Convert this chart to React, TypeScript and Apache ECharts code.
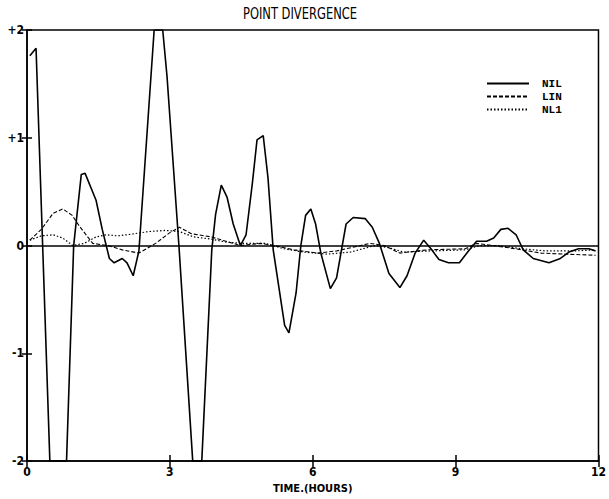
import React, { useEffect, useRef } from "react";
import * as echarts from "echarts";

const TITLE = "POINT DIVERGENCE";
const X_NAME = "TIME.(HOURS)";
const X_TICKS = [0, 3, 6, 9, 12];
const Y_TICKS = [-2, -1, 0, 1, 2];

const nilT = [0.06, 0.19, 0.48, 0.83, 0.98, 1.14, 1.22, 1.45, 1.58, 1.73, 1.83, 2.0, 2.1, 2.23, 2.35, 2.67, 2.85, 2.94, 3.19, 3.48, 3.67, 3.88, 3.96, 4.08, 4.2, 4.33, 4.48, 4.6, 4.73, 4.83, 4.96, 5.06, 5.17, 5.41, 5.5, 5.65, 5.75, 5.85, 5.96, 6.06, 6.17, 6.37, 6.5, 6.7, 6.85, 7.1, 7.25, 7.4, 7.6, 7.83, 7.98, 8.15, 8.33, 8.5, 8.65, 8.85, 9.08, 9.27, 9.44, 9.65, 9.8, 9.95, 10.1, 10.27, 10.42, 10.63, 10.96, 11.2, 11.38, 11.58, 11.8, 11.94];
const nilV = [1.76, 1.83, -2.0, -2.0, 0.0, 0.66, 0.67, 0.42, 0.15, -0.12, -0.16, -0.12, -0.16, -0.28, -0.05, 2.0, 2.0, 1.57, 0.0, -2.0, -2.0, -0.04, 0.29, 0.56, 0.45, 0.2, 0.0, 0.1, 0.57, 0.98, 1.02, 0.63, -0.04, -0.74, -0.81, -0.44, 0.0, 0.28, 0.34, 0.2, -0.07, -0.4, -0.3, 0.2, 0.26, 0.25, 0.17, 0.02, -0.26, -0.39, -0.28, -0.07, 0.05, -0.04, -0.13, -0.16, -0.16, -0.05, 0.04, 0.04, 0.07, 0.15, 0.16, 0.1, -0.04, -0.12, -0.16, -0.12, -0.06, -0.03, -0.03, -0.05];

const linT = [0.06, 0.3, 0.55, 0.75, 0.95, 1.1, 1.38, 1.7, 2.0, 2.35, 2.7, 3.0, 3.2, 3.45, 3.87, 4.1, 4.48, 4.9, 5.2, 5.6, 6.1, 6.5, 7.2, 7.5, 7.83, 8.4, 9.2, 9.44, 9.8, 10.4, 10.8, 11.3, 11.94];
const linV = [0.05, 0.15, 0.3, 0.34, 0.28, 0.18, 0.02, 0.0, -0.04, -0.07, 0.02, 0.12, 0.17, 0.11, 0.08, 0.05, 0.0, 0.02, 0.0, -0.04, -0.07, -0.05, 0.02, 0.0, -0.07, -0.04, -0.03, 0.02, 0.0, -0.04, -0.07, -0.08, -0.09];

const nl1T = [0.06, 0.3, 0.55, 0.75, 0.96, 1.2, 1.45, 1.67, 1.9, 2.1, 2.56, 2.9, 3.2, 3.5, 3.87, 4.2, 4.6, 5.0, 5.4, 5.8, 6.3, 6.8, 7.3, 7.6, 7.9, 8.5, 9.2, 9.5, 9.9, 10.4, 10.9, 11.5, 11.94];
const nl1V = [0.05, 0.09, 0.1, 0.07, 0.0, 0.02, 0.08, 0.1, 0.09, 0.1, 0.13, 0.14, 0.13, 0.08, 0.06, 0.03, 0.02, 0.02, -0.03, -0.06, -0.08, -0.06, 0.0, -0.02, -0.06, -0.05, -0.04, 0.0, 0.0, -0.03, -0.05, -0.05, -0.04];

const FONT = "'DejaVu Sans Condensed', 'Liberation Sans Narrow', 'DejaVu Sans', sans-serif";

const zip = (t: number[], v: number[]) => t.map((x, i) => [x, v[i]]);

export default function App() {
  const ref = useRef<HTMLDivElement>(null);
  useEffect(() => {
    if (!ref.current) return;
    const chart = echarts.init(ref.current, undefined, { renderer: "svg" });
    chart.setOption({
      animation: false,
      backgroundColor: "#fff",
      graphic: [
        {
          type: "text",
          x: 300,
          y: 5,
          scaleX: 0.8,
          style: {
            text: TITLE,
            fill: "#000",
            fontFamily: FONT,
            fontSize: 16,
            textAlign: "center",
            textVerticalAlign: "top",
          },
        },
      ],
      legend: {
        orient: "vertical",
        left: 481,
        top: 73,
        itemWidth: 42,
        itemHeight: 10,
        itemGap: 2,
        itemStyle: { opacity: 0 },
        textStyle: { fontFamily: "'Liberation Mono', 'DejaVu Sans Mono', monospace", fontWeight: "bold", fontSize: 11, color: "#000", padding: [0, 0, 0, 8] },
        data: ["NIL", "LIN", "NL1"],
      },
      grid: {
        left: 27,
        right: 7,
        top: 30,
        bottom: 31,
        show: true,
        borderColor: "#000",
        borderWidth: 1.5,
      },
      xAxis: [
        {
          type: "value",
          min: 0,
          max: 12,
          interval: 3,
          name: X_NAME,
          nameLocation: "middle",
          nameGap: 19,
          nameTextStyle: { fontFamily: FONT, fontSize: 11, fontWeight: "bold", color: "#000" },
          axisLine: { show: true, onZero: false, lineStyle: { color: "#000", width: 1.5 } },
          axisTick: { show: true, length: 6, lineStyle: { color: "#000", width: 1.5 } },
          axisLabel: { fontFamily: FONT, fontSize: 12, fontWeight: "bold", color: "#000", margin: 5, formatter: (v: number) => (X_TICKS.includes(v) ? String(v) : "") },
          splitLine: { show: false },
        },
        {
          type: "value",
          position: "bottom",
          min: 0,
          max: 12,
          interval: 3,
          axisLine: { show: false, onZero: false },
          axisTick: { show: true, inside: true, length: 6, lineStyle: { color: "#000", width: 1.5 } },
          axisLabel: { show: false },
          splitLine: { show: false },
        },
      ],
      yAxis: [
        {
          type: "value",
          min: -2,
          max: 2,
          interval: 1,
          axisLine: { show: true, onZero: false, lineStyle: { color: "#000", width: 1.5 } },
          axisTick: { show: true, length: 5, lineStyle: { color: "#000", width: 1.5 } },
          axisLabel: {
            fontFamily: FONT,
            fontSize: 12,
            fontWeight: "bold",
            color: "#000",
            margin: 3,
            formatter: (v: number) => (Y_TICKS.includes(v) ? (v > 0 ? "+" + v : String(v)) : ""),
          },
          splitLine: { show: false },
        },
        {
          type: "value",
          position: "left",
          min: -2,
          max: 2,
          interval: 1,
          axisLine: { show: false, onZero: false },
          axisTick: { show: true, inside: true, length: 5, lineStyle: { color: "#000", width: 1.5 } },
          axisLabel: { show: false },
          splitLine: { show: false },
        },
      ],
      series: [
        {
          name: "NIL",
          type: "line",
          data: zip(nilT, nilV),
          showSymbol: false,
          symbol: "none",
          clip: true,
          lineStyle: { color: "#000", width: 1.6, type: "solid" },
          itemStyle: { color: "#000" },
          markLine: {
            silent: true,
            symbol: "none",
            label: { show: false },
            lineStyle: { color: "#000", width: 1.6, type: "solid" },
            data: [{ yAxis: 0 }],
          },
        },
        {
          name: "LIN",
          type: "line",
          data: zip(linT, linV),
          showSymbol: false,
          symbol: "none",
          lineStyle: { color: "#000", width: 1.1, type: [4, 2] },
          itemStyle: { color: "#000" },
        },
        {
          name: "NL1",
          type: "line",
          data: zip(nl1T, nl1V),
          showSymbol: false,
          symbol: "none",
          lineStyle: { color: "#000", width: 1.2, type: [1.5, 2] },
          itemStyle: { color: "#000" },
        },
      ],
    });
    return () => chart.dispose();
  }, []);
  return <div ref={ref} style={{ position: "fixed", left: 0, top: 0, width: 609, height: 499 }} />;
}
